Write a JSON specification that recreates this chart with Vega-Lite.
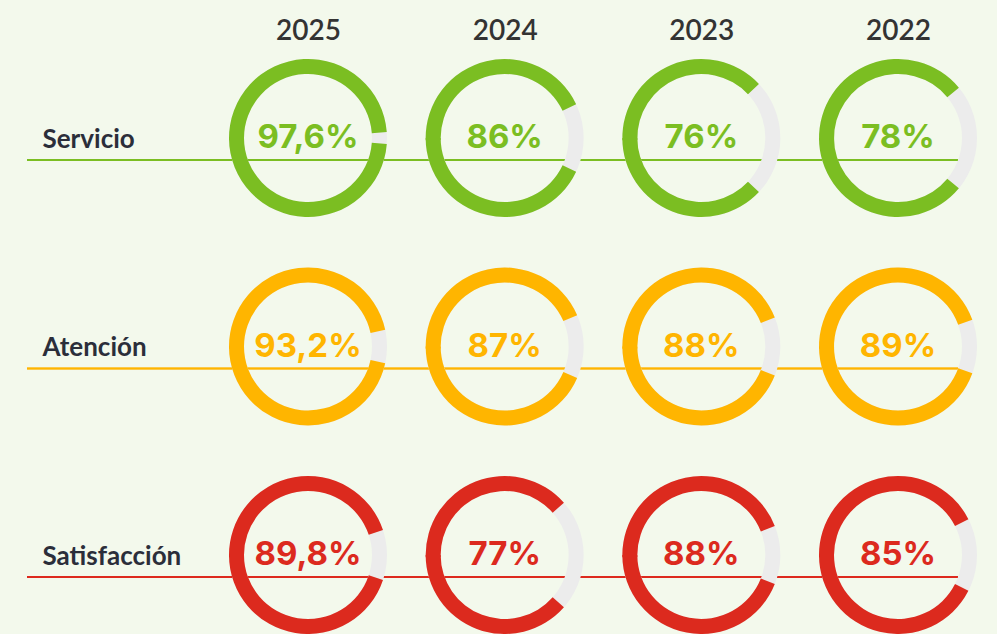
{
  "$schema": "https://vega.github.io/schema/vega-lite/v6.json",
  "width": 931,
  "height": 634,
  "autosize": "none",
  "padding": {"left": 27, "right": 39, "top": 0, "bottom": 0},
  "background": "#f3f9ec",
  "config": {
    "view": {"stroke": null},
    "locale": {"number": {"decimal": ",", "thousands": ".", "grouping": [3], "currency": ["", " €"]}}
  },
  "data": {
    "values": [
      {"categoria": "Servicio", "anio": "2025", "valor": 0.976},
      {"categoria": "Servicio", "anio": "2024", "valor": 0.86},
      {"categoria": "Servicio", "anio": "2023", "valor": 0.76},
      {"categoria": "Servicio", "anio": "2022", "valor": 0.78},
      {"categoria": "Atención", "anio": "2025", "valor": 0.932},
      {"categoria": "Atención", "anio": "2024", "valor": 0.87},
      {"categoria": "Atención", "anio": "2023", "valor": 0.88},
      {"categoria": "Atención", "anio": "2022", "valor": 0.89},
      {"categoria": "Satisfacción", "anio": "2025", "valor": 0.898},
      {"categoria": "Satisfacción", "anio": "2024", "valor": 0.77},
      {"categoria": "Satisfacción", "anio": "2023", "valor": 0.88},
      {"categoria": "Satisfacción", "anio": "2022", "valor": 0.85}
    ]
  },
  "encoding": {
    "x": {
      "field": "anio", "type": "nominal",
      "scale": {"type": "point", "padding": 0, "domain": ["2025", "2024", "2023", "2022"], "range": [281, 871]},
      "axis": {
        "orient": "top", "title": null, "domain": false, "ticks": false, "tickSize": 0, "grid": false,
        "offset": -39, "labelPadding": 0, "labelBaseline": "alphabetic",
        "labelFont": "Lato", "labelFontWeight": 600, "labelFontSize": 28, "labelColor": "#333333", "labelAngle": 0
      }
    },
    "y": {
      "field": "categoria", "type": "nominal",
      "scale": {"type": "point", "padding": 0, "domain": ["Servicio", "Atención", "Satisfacción"], "range": [138, 555]},
      "axis": {
        "orient": "left", "title": null, "domain": false, "ticks": false, "tickSize": 0, "grid": false,
        "labelPadding": -15, "labelAlign": "left", "labelBaseline": "alphabetic", "labelOffset": 9,
        "labelFont": "Lato", "labelFontWeight": 700, "labelFontSize": 26, "labelColor": "#2b2e3a"
      }
    }
  },
  "layer": [
    {
      "mark": {"type": "rule", "strokeWidth": 1.5, "yOffset": 22},
      "encoding": {
        "x": null,
        "color": {
          "field": "categoria", "type": "nominal",
          "scale": {"domain": ["Servicio", "Atención", "Satisfacción"], "range": ["#7bbe22", "#ffb500", "#dc2a1e"]},
          "legend": null
        }
      }
    },
    {
      "mark": {"type": "arc", "radius": 79, "radius2": 64, "theta": 0, "theta2": 6.2832, "color": "#ececec"},
      "encoding": {}
    },
    {
      "mark": {"type": "arc", "radius": 79, "radius2": 64, "theta2Offset": -0.03},
      "encoding": {
        "theta": {"field": "valor", "type": "quantitative", "stack": null, "scale": {"domain": [0, 1], "range": [4.712389, 7.853982]}},
        "theta2": {"datum": 0},
        "color": {"field": "categoria", "type": "nominal", "legend": null}
      }
    },
    {
      "mark": {"type": "arc", "radius": 79, "radius2": 64},
      "encoding": {
        "theta": {"field": "valor", "type": "quantitative", "stack": null, "scale": {"domain": [0, 1], "range": [4.712389, 1.570796]}},
        "theta2": {"datum": 0},
        "color": {"field": "categoria", "type": "nominal", "legend": null}
      }
    },
    {
      "mark": {"type": "text", "font": "Inter", "fontWeight": 700, "fontSize": 33, "baseline": "alphabetic", "align": "center", "dy": 10},
      "encoding": {
        "text": {"field": "valor", "type": "quantitative", "format": ".1~%"},
        "color": {"field": "categoria", "type": "nominal", "legend": null}
      }
    }
  ],
  "resolve": {"scale": {"theta": "independent"}}
}
